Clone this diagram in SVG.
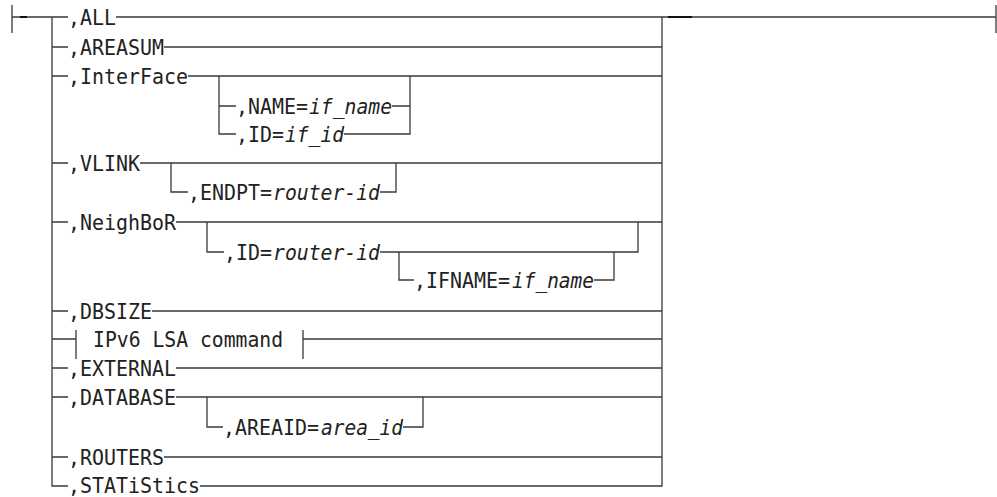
<svg xmlns="http://www.w3.org/2000/svg" width="997" height="497" viewBox="0 0 997 497">
<style>
.ln{fill:none;stroke:#3a3a3a;stroke-width:1.3}
.tk{fill:none;stroke:#111;stroke-width:2.2}
.t{font-family:"DejaVu Sans Mono","Liberation Mono",monospace;font-size:22px;fill:#222}
.i{font-style:italic}
</style>
<rect width="997" height="497" fill="#fff"/>
<g id="connectors">
<path class="ln" d="M12 5V33M12 17H68M116 17H996M996 5V33"/>
<path class="tk" d="M20 17H27M668 17H692"/>
<path class="ln" d="M52 17V486H68M662 17V486H200"/>
<path class="ln" d="M52 47H68M164 47H662"/>
<path class="ln" d="M52 76H68M188 76H662M219 76V134H236M219 106H236M392 106H410M344 134H410V76"/>
<path class="ln" d="M52 163H68M140 163H662M171 163V192H188M380 192H396V163"/>
<path class="ln" d="M52 222H68M176 222H662M207 222V252H224M380 252H638V222M399 252V280H414M594 280H614V252"/>
<path class="ln" d="M52 311H68M152 311H662"/>
<path class="ln" d="M52 339H76M76 330V359M303 330V359M303 339H662"/>
<path class="ln" d="M52 368H68M176 368H662"/>
<path class="ln" d="M52 397H68M176 397H662M207 397V427H223M403 427H423V397"/>
<path class="ln" d="M52 457H68M164 457H662"/>
</g>
<g id="all"><text class="t" x="68" y="25" textLength="48" lengthAdjust="spacingAndGlyphs">,ALL</text></g>
<g id="areasum"><text class="t" x="68" y="55" textLength="96" lengthAdjust="spacingAndGlyphs">,AREASUM</text></g>
<g id="interface"><text class="t" x="68" y="84" textLength="120" lengthAdjust="spacingAndGlyphs">,InterFace</text></g>
<g id="if-name"><text class="t" x="236" y="114" textLength="72" lengthAdjust="spacingAndGlyphs">,NAME=</text><text class="t i" x="309" y="114" textLength="83" lengthAdjust="spacingAndGlyphs">if_name</text></g>
<g id="if-id"><text class="t" x="236" y="142" textLength="48" lengthAdjust="spacingAndGlyphs">,ID=</text><text class="t i" x="285" y="142" textLength="59" lengthAdjust="spacingAndGlyphs">if_id</text></g>
<g id="vlink"><text class="t" x="68" y="171" textLength="72" lengthAdjust="spacingAndGlyphs">,VLINK</text></g>
<g id="endpt"><text class="t" x="188" y="200" textLength="84" lengthAdjust="spacingAndGlyphs">,ENDPT=</text><text class="t i" x="273" y="200" textLength="107" lengthAdjust="spacingAndGlyphs">router-id</text></g>
<g id="neighbor"><text class="t" x="68" y="230" textLength="108" lengthAdjust="spacingAndGlyphs">,NeighBoR</text></g>
<g id="nbr-id"><text class="t" x="224" y="260" textLength="48" lengthAdjust="spacingAndGlyphs">,ID=</text><text class="t i" x="273" y="260" textLength="107" lengthAdjust="spacingAndGlyphs">router-id</text></g>
<g id="ifname"><text class="t" x="414" y="288" textLength="96" lengthAdjust="spacingAndGlyphs">,IFNAME=</text><text class="t i" x="512" y="288" textLength="82" lengthAdjust="spacingAndGlyphs">if_name</text></g>
<g id="dbsize"><text class="t" x="68" y="319" textLength="84" lengthAdjust="spacingAndGlyphs">,DBSIZE</text></g>
<g id="ipv6"><text class="t" x="93" y="347" textLength="190" lengthAdjust="spacingAndGlyphs">IPv6 LSA command</text></g>
<g id="external"><text class="t" x="68" y="376" textLength="108" lengthAdjust="spacingAndGlyphs">,EXTERNAL</text></g>
<g id="database"><text class="t" x="68" y="405" textLength="108" lengthAdjust="spacingAndGlyphs">,DATABASE</text></g>
<g id="areaid"><text class="t" x="223" y="435" textLength="96" lengthAdjust="spacingAndGlyphs">,AREAID=</text><text class="t i" x="321" y="435" textLength="82" lengthAdjust="spacingAndGlyphs">area_id</text></g>
<g id="routers"><text class="t" x="68" y="465" textLength="96" lengthAdjust="spacingAndGlyphs">,ROUTERS</text></g>
<g id="statistics"><text class="t" x="68" y="493" textLength="132" lengthAdjust="spacingAndGlyphs">,STATiStics</text></g>
</svg>
